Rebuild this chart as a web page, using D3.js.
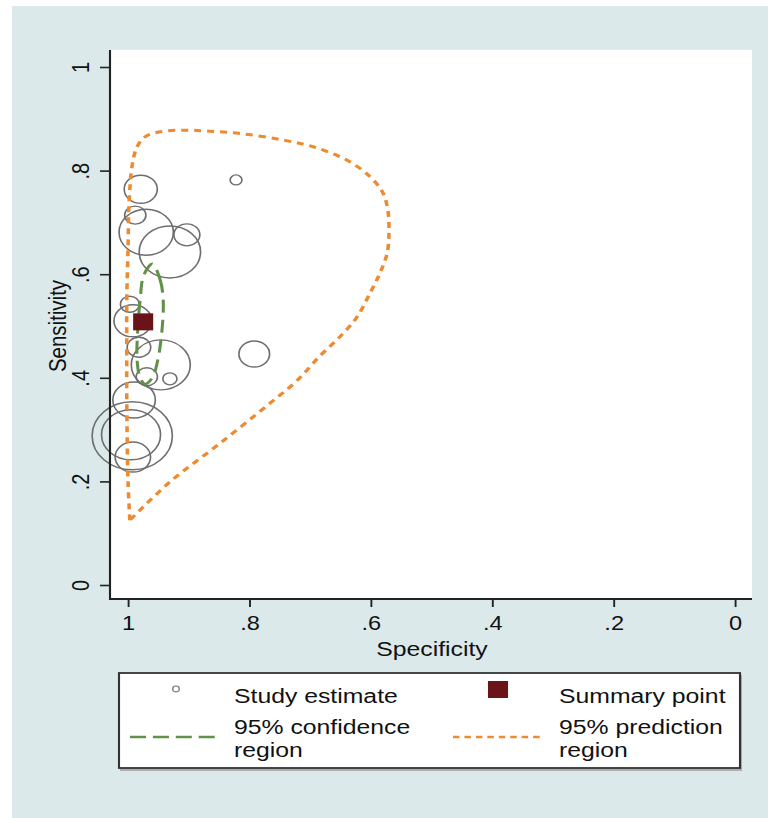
<!DOCTYPE html>
<html>
<head>
<meta charset="utf-8">
<title>SROC plot</title>
<style>
body { margin: 0; background: #fff; }
text { font-family: "Liberation Sans", Arial, Helvetica, sans-serif; fill: #111; }
</style>
</head>
<body>
<script src="https://cdn.jsdelivr.net/npm/d3@7"></script>
<script>

// study estimates (specificity, sensitivity, weight)
var studySpec = [0.979, 0.822, 0.988, 0.970, 0.931, 0.903, 0.997, 0.992, 0.982, 0.946, 0.969, 0.931, 0.792, 0.990, 0.993, 0.995, 0.992];
var studySens = [0.764, 0.782, 0.714, 0.681, 0.643, 0.676, 0.542, 0.510, 0.459, 0.425, 0.402, 0.398, 0.446, 0.357, 0.288, 0.290, 0.247];
var studyWeight = [196, 25, 81, 529, 676, 121, 64, 256, 100, 625, 81, 36, 169, 324, 1156, 625, 225];

var summarySpec = [0.975];
var summarySens = [0.508];

// 95% confidence region
var confSpec = [0.960, 0.947, 0.942, 0.944, 0.951, 0.960, 0.972, 0.980, 0.985, 0.984, 0.980, 0.974];
var confSens = [0.620, 0.589, 0.550, 0.492, 0.434, 0.400, 0.388, 0.400, 0.434, 0.492, 0.550, 0.598];

// 95% prediction region
var predSpec = [0.997, 1.000, 1.002, 1.002, 1.002, 1.000, 0.998, 0.993, 0.985, 0.972, 0.947, 0.909, 0.865, 0.811, 0.745, 0.695, 0.639, 0.601, 0.580, 0.572, 0.570, 0.573, 0.585, 0.601, 0.623, 0.651, 0.684, 0.722, 0.766, 0.848, 0.931, 0.997];
var predSens = [0.125, 0.203, 0.357, 0.454, 0.550, 0.647, 0.743, 0.811, 0.846, 0.865, 0.875, 0.878, 0.876, 0.871, 0.859, 0.846, 0.820, 0.788, 0.757, 0.724, 0.685, 0.641, 0.602, 0.564, 0.517, 0.479, 0.442, 0.394, 0.351, 0.274, 0.199, 0.125];

var xTicks = [1, 0.8, 0.6, 0.4, 0.2, 0];
var yTicks = [0, 0.2, 0.4, 0.6, 0.8, 1];

var width = 768, height = 818;
var sx = 1.18; // the picture is a bit wider than tall
function px(v) { return v / sx; }
function fmt(d) { return d === 0 ? "0" : d === 1 ? "1" : String(d).replace("0.", "."); }

var svg = d3.select("body").append("svg")
	.attr("width", width)
	.attr("height", height);

svg.append("rect")
	.attr("x", 12).attr("y", 6)
	.attr("width", width - 12).attr("height", height - 6)
	.attr("fill", "#dce9ea");

var g = svg.append("g").attr("transform", "scale(" + sx + ",1)");

var x = d3.scaleLinear().domain([1, 0]).range([px(128), px(735)]);
var y = d3.scaleLinear().domain([0, 1]).range([585, 67]);
var r = d3.scaleSqrt().domain([0, d3.max(studyWeight)]).range([0, 34]);

// plot region
g.append("rect")
	.attr("x", px(110)).attr("y", 50)
	.attr("width", px(752) - px(110)).attr("height", 549)
	.attr("fill", "#fff");

// studies
var studies = studySpec.map(function(d, i) { return { spec: d, sens: studySens[i], w: studyWeight[i] }; });
g.selectAll(".study")
	.data(studies)
	.enter().append("circle")
	.attr("class", "study")
	.attr("cx", function(d) { return x(d.spec); })
	.attr("cy", function(d) { return y(d.sens); })
	.attr("r", function(d) { return r(d.w); })
	.attr("fill", "none")
	.attr("stroke", "#6e6e6e")
	.attr("stroke-width", 1.4);

var line = d3.line()
	.x(function(d) { return x(d[0]); })
	.y(function(d) { return y(d[1]); });

// prediction region
g.append("path")
	.datum(predSpec.map(function(d, i) { return [d, predSens[i]]; }))
	.attr("d", line.curve(d3.curveCatmullRom.alpha(0.5)))
	.attr("fill", "none")
	.attr("stroke", "#ee8a30")
	.attr("stroke-width", 3)
	.attr("stroke-dasharray", "6,5");

// confidence region
g.append("path")
	.datum(confSpec.map(function(d, i) { return [d, confSens[i]]; }))
	.attr("d", line.curve(d3.curveCatmullRomClosed))
	.attr("fill", "none")
	.attr("stroke", "#62914a")
	.attr("stroke-width", 2.6)
	.attr("stroke-dasharray", "13,7");

// summary point
g.selectAll(".summary")
	.data(summarySpec.map(function(d, i) { return [d, summarySens[i]]; }))
	.enter().append("rect")
	.attr("class", "summary")
	.attr("x", function(d) { return x(d[0]) - 8.5; })
	.attr("y", function(d) { return y(d[1]) - 8.5; })
	.attr("width", 17).attr("height", 17)
	.attr("fill", "#6a1419");

// axes
var xAxis = g.append("g")
	.attr("transform", "translate(0,599)")
	.call(d3.axisBottom(x).tickValues(xTicks).tickFormat(fmt).tickSize(8).tickPadding(6));
xAxis.select(".domain").remove();
xAxis.selectAll("line").attr("stroke", "#222").attr("stroke-width", 1.6);
xAxis.selectAll("text")
	.attr("fill", "#111")
	.style("font-size", "20px")
	.attr("y", null).attr("dy", null)
	.attr("transform", "translate(0,31)");

var yAxis = g.append("g")
	.attr("transform", "translate(" + px(110) + ",0)")
	.call(d3.axisLeft(y).tickValues(yTicks).tickFormat(fmt).tickSize(px(10)));
yAxis.select(".domain").remove();
yAxis.selectAll("line").attr("stroke", "#222").attr("stroke-width", 1.6);
yAxis.selectAll("text")
	.attr("fill", "#111")
	.style("font-size", "20px")
	.attr("x", null).attr("dy", null)
	.attr("text-anchor", "middle")
	.attr("transform", "translate(" + (-px(21)) + ",0) rotate(-90)");

g.append("line")
	.attr("x1", px(110)).attr("x2", px(110))
	.attr("y1", 50).attr("y2", 600)
	.attr("stroke", "#222").attr("stroke-width", 1.8);
g.append("line")
	.attr("x1", px(109)).attr("x2", px(752))
	.attr("y1", 599).attr("y2", 599)
	.attr("stroke", "#222").attr("stroke-width", 1.8);

g.append("text")
	.attr("x", px(432)).attr("y", 656)
	.attr("text-anchor", "middle")
	.style("font-size", "21px")
	.text("Specificity");

g.append("text")
	.attr("transform", "translate(" + px(66) + ",326) rotate(-90)")
	.attr("text-anchor", "middle")
	.style("font-size", "20.5px")
	.text("Sensitivity");

// legend
var leg = g.append("g");
leg.append("rect")
	.attr("x", px(120)).attr("y", 675)
	.attr("width", px(742) - px(120)).attr("height", 96)
	.attr("fill", "#8a8a8a").attr("opacity", 0.6);
leg.append("rect")
	.attr("x", px(119)).attr("y", 673)
	.attr("width", px(740) - px(119)).attr("height", 95)
	.attr("fill", "#fff")
	.attr("stroke", "#333").attr("stroke-width", 1.8);

leg.append("circle")
	.attr("cx", px(176)).attr("cy", 689)
	.attr("r", 2.8)
	.attr("fill", "none").attr("stroke", "#888").attr("stroke-width", 1.2);
leg.append("rect")
	.attr("x", px(498) - 8.5).attr("y", 681)
	.attr("width", 17).attr("height", 17)
	.attr("fill", "#6a1419");
leg.append("line")
	.attr("x1", px(130)).attr("x2", px(215))
	.attr("y1", 737).attr("y2", 737)
	.attr("stroke", "#62914a").attr("stroke-width", 2.6)
	.attr("stroke-dasharray", "13.6,5.8");
leg.append("line")
	.attr("x1", px(453)).attr("x2", px(541))
	.attr("y1", 737).attr("y2", 737)
	.attr("stroke", "#ee8a30").attr("stroke-width", 2.4)
	.attr("stroke-dasharray", "5.5,4.2");

var legText = [
	["Study estimate", 234, 703],
	["Summary point", 559, 703],
	["95% confidence", 234, 734],
	["region", 234, 757],
	["95% prediction", 559, 734],
	["region", 559, 757]
];
leg.selectAll(".lt")
	.data(legText)
	.enter().append("text")
	.attr("class", "lt")
	.attr("x", function(d) { return px(d[1]); })
	.attr("y", function(d) { return d[2]; })
	.style("font-size", "21px")
	.text(function(d) { return d[0]; });

</script>
</body>
</html>
